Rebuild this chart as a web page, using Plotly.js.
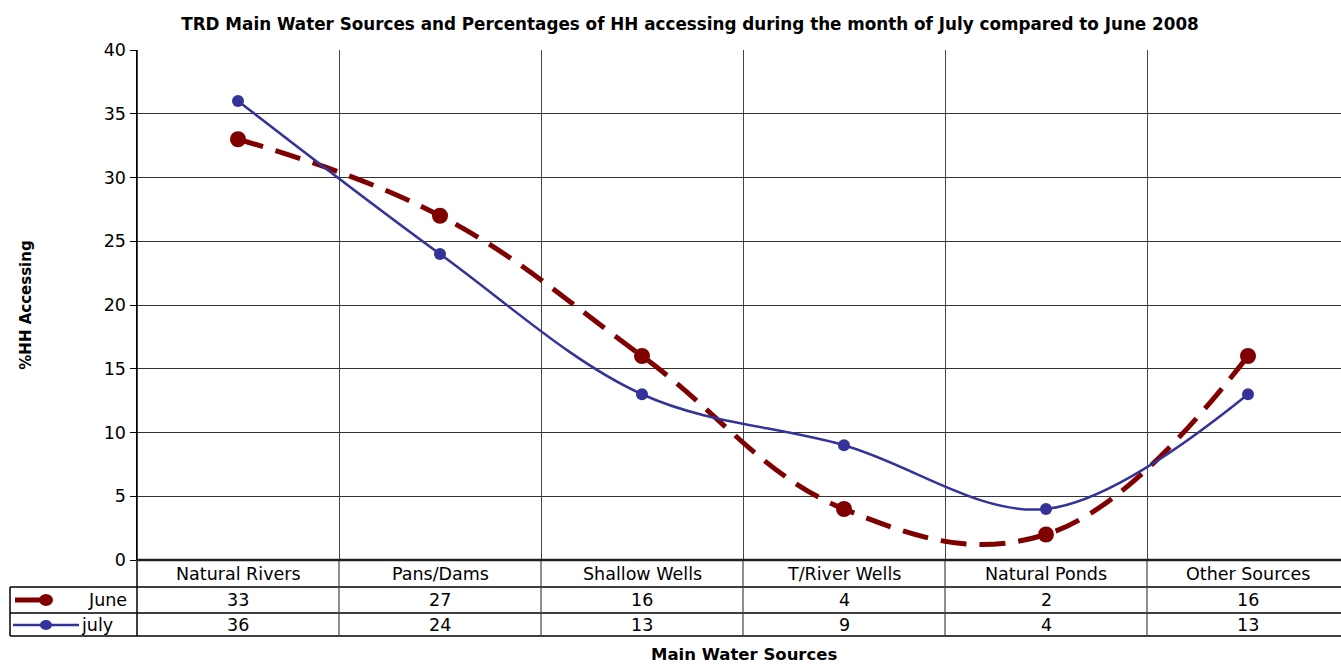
<!DOCTYPE html>
<html><head><meta charset="utf-8">
<script src="https://cdn.plot.ly/plotly-3.0.1.min.js"></script>
<style>html,body{margin:0;padding:0;background:#fff;}#chart{width:1341px;height:666px;}</style>
</head><body><div id="chart"></div>
<script>
const categories = ["Natural Rivers","Pans/Dams","Shallow Wells","T/River Wells","Natural Ponds","Other Sources"];
const june = [33,27,16,4,2,16];
const july = [36,24,13,9,4,13];
const seriesNames = ["June","july"];
const juneColor = "#800000", julyColor = "#333399";

const xIdx = categories.map((c,i)=>i);
const plotTop = 50, plotBottom = 560, plotH = plotBottom - plotTop;
const py = p => (plotBottom - p) / plotH; // pixel y -> paper y
const rowY = [560, 587, 613, 636];
const fam = "DejaVu Sans, Arial, sans-serif";
const font = {family:fam, size:17.5, color:"#000"};

const traces = [
  {x:xIdx, y:june, name:seriesNames[0], type:"scatter", mode:"lines+markers",
   line:{color:juneColor, width:5, shape:"spline", smoothing:1.15, dash:"26px,13px"},
   marker:{color:juneColor, size:16}},
  {x:xIdx, y:july, name:seriesNames[1], type:"scatter", mode:"lines+markers",
   line:{color:julyColor, width:2.5, shape:"spline", smoothing:1},
   marker:{color:julyColor, size:12}}
];

const shapes = [];
const annotations = [];
const n = categories.length;
[rowY[1], rowY[2], rowY[3]].forEach(p=>{
  shapes.push({type:"line", xref:"paper", yref:"paper", x0:-127/1204, x1:1, y0:py(p), y1:py(p), line:{color:"#000", width:1.5}});
});
shapes.push({type:"line", xref:"paper", yref:"paper", x0:-127/1204, x1:-127/1204, y0:py(rowY[1]), y1:py(rowY[3]), line:{color:"#000", width:1.5}});
shapes.push({type:"line", xref:"paper", yref:"paper", x0:0, x1:0, y0:1, y1:py(rowY[3]), line:{color:"#000", width:1.5}});
for (let i=0;i<n-1;i++){
  shapes.push({type:"line", xref:"x", yref:"paper", x0:i+0.5, x1:i+0.5, y0:0, y1:py(rowY[3]), line:{color:"#444", width:1.2}});
}
shapes.push({type:"line", xref:"paper", yref:"paper", x0:0, x1:1, y0:0, y1:0, line:{color:"#222", width:2.5}});
categories.forEach((c,i)=>{
  annotations.push({x:i, y:py((rowY[0]+rowY[1])/2), xref:"x", yref:"paper", text:c, showarrow:false, font:font, yanchor:"middle"});
  annotations.push({x:i, y:py((rowY[1]+rowY[2])/2), xref:"x", yref:"paper", text:String(june[i]), showarrow:false, font:font, yanchor:"middle"});
  annotations.push({x:i, y:py((rowY[2]+rowY[3])/2), xref:"x", yref:"paper", text:String(july[i]), showarrow:false, font:font, yanchor:"middle"});
});
const px = p => (p - 137) / 1204;
const yJ = py(600), yL = py(625);
shapes.push({type:"line", xref:"paper", yref:"paper", x0:px(15), x1:px(52), y0:yJ, y1:yJ, line:{color:juneColor, width:5}});
shapes.push({type:"circle", xref:"paper", yref:"paper", xsizemode:"pixel", ysizemode:"pixel", xanchor:px(46), yanchor:yJ, x0:-7, x1:7, y0:-6, y1:6, fillcolor:juneColor, line:{width:0}});
shapes.push({type:"line", xref:"paper", yref:"paper", x0:px(13), x1:px(79), y0:yL, y1:yL, line:{color:julyColor, width:2.5}});
shapes.push({type:"circle", xref:"paper", yref:"paper", xsizemode:"pixel", ysizemode:"pixel", xanchor:px(46), yanchor:yL, x0:-6, x1:6, y0:-5, y1:5, fillcolor:julyColor, line:{width:0}});
annotations.push({x:px(129), y:py(600), xref:"paper", yref:"paper", text:seriesNames[0], showarrow:false, font:font, xanchor:"right", yanchor:"middle"});
annotations.push({x:px(79), y:py(625), xref:"paper", yref:"paper", text:seriesNames[1], showarrow:false, font:font, xanchor:"left", yanchor:"middle"});
annotations.push({x:px(744), y:py(654), xref:"paper", yref:"paper", text:"<b>Main Water Sources</b>", showarrow:false, borderpad:0, font:{family:fam, size:16.5, color:"#000"}, yanchor:"middle"});

const layout = {
  width:1341, height:666,
  margin:{l:137, r:0, t:plotTop, b:666-plotBottom, pad:0},
  paper_bgcolor:"#fff", plot_bgcolor:"#fff",
  showlegend:false,
  font:{family:fam},
  title:{text:"<b>TRD Main Water Sources and Percentages of HH accessing during the month of July compared to June 2008</b>",
    x:690/1341, xanchor:"center", y:1-24/666, yanchor:"middle", font:{family:fam, size:16.8, color:"#000"}},
  xaxis:{range:[-0.5, -0.5 + 1204/202], tickvals:[-0.5,0.5,1.5,2.5,3.5,4.5,5.5], showticklabels:false,
    showgrid:true, gridcolor:"#444", gridwidth:1, zeroline:false, showline:false, ticks:"", fixedrange:true},
  yaxis:{range:[0,40], tickvals:[0,5,10,15,20,25,30,35,40], showgrid:true, gridcolor:"#333", gridwidth:1,
    zeroline:false, showline:true, linecolor:"#000", linewidth:1.5, ticks:"outside", ticklen:6, tickcolor:"#000",
    tickfont:font,
    title:{text:"<b>%HH Accessing</b>", font:{family:fam, size:15, color:"#000"}, standoff:68}},
  shapes:shapes, annotations:annotations
};
Plotly.newPlot("chart", traces, layout, {staticPlot:true});
</script></body></html>
